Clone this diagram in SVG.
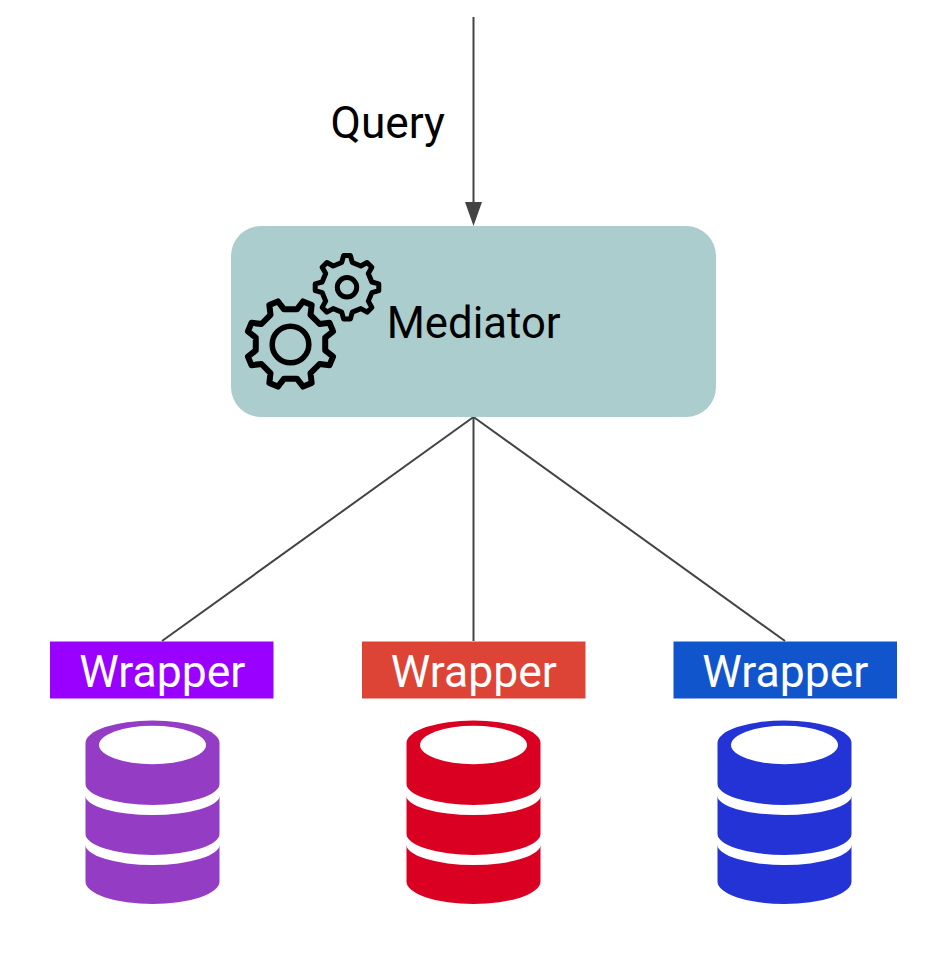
<svg xmlns="http://www.w3.org/2000/svg" xmlns:xlink="http://www.w3.org/1999/xlink" width="934" height="968" viewBox="0 0 934 968">
<style>
text{font-family:Roboto,"Liberation Sans",sans-serif;font-size:44.5px}
.dark{fill:#000}
.light{fill:#fff;text-anchor:middle}
.link{fill:none;stroke:#434343;stroke-width:2}
.gear,.hub{fill:none;stroke:#000;stroke-linejoin:round}
</style>
<defs>
<polygon id="cog" points="32.45,6.01 39.79,11.79 36.47,19.8 27.2,18.69 18.69,27.2 19.8,36.47 11.79,39.79 6.01,32.45 -6.01,32.45 -11.79,39.79 -19.8,36.47 -18.69,27.2 -27.2,18.69 -36.47,19.8 -39.79,11.79 -32.45,6.01 -32.45,-6.01 -39.79,-11.79 -36.47,-19.8 -27.2,-18.69 -18.69,-27.2 -19.8,-36.47 -11.79,-39.79 -6.01,-32.45 6.01,-32.45 11.79,-39.79 19.8,-36.47 18.69,-27.2 27.2,-18.69 36.47,-19.8 39.79,-11.79 32.45,-6.01"/>
<g id="db">
<path d="M0.500 743A67 22.500 0 0 1 134.500 743V881.500A67 22.500 0 0 1 0.500 881.500Z"/>
<ellipse cx="67.500" cy="745" rx="53.500" ry="19.200" fill="#fff"/>
<path d="M0 783A67.500 22 0 0 0 135 783V795A67.500 20 0 0 1 0 795Z" fill="#fff"/>
<path d="M0 833A67.500 22 0 0 0 135 833V844A67.500 21 0 0 1 0 844Z" fill="#fff"/>
</g>
</defs>
<g id="connectors">
<path class="link" d="M473.500 17V202"/>
<path d="M465 202H482L473.500 226Z" fill="#434343"/>
<path class="link" d="M473.500 417L162 641"/>
<path class="link" d="M473.500 417V641"/>
<path class="link" d="M473.500 417L785 641"/>
</g>
<g id="query"><text class="dark" x="330.500" y="138" style="font-size:44.2px">Query</text></g>
<g id="mediator">
<rect x="231" y="226" width="485" height="191" rx="30" fill="#abcdce"/>
<use xlink:href="#cog" href="#cog" class="gear" stroke-width="5.600" transform="translate(290.500 344) scale(1.070)"/>
<circle class="hub" cx="290.500" cy="344.500" r="18.300" stroke-width="5.500"/>
<use xlink:href="#cog" href="#cog" class="gear" stroke-width="6.500" transform="translate(347 287.300) rotate(22.500) scale(.770)"/>
<circle class="hub" cx="347" cy="287.300" r="9.700" stroke-width="5"/>
<text class="dark" x="386.700" y="338" style="font-size:43.700px">Mediator</text>
</g>
<g id="wrapper-purple">
<rect x="50" y="641.500" width="223.500" height="57" fill="#9900ff"/>
<text class="light" x="162.300" y="687">Wrapper</text>
</g>
<g id="wrapper-red">
<rect x="362" y="641.500" width="223.500" height="57" fill="#dd4436"/>
<text class="light" x="473.800" y="687">Wrapper</text>
</g>
<g id="wrapper-blue">
<rect x="673.500" y="641.500" width="223.500" height="57" fill="#1155cc"/>
<text class="light" x="785.300" y="687">Wrapper</text>
</g>
<g id="db-purple"><use xlink:href="#db" href="#db" x="85" fill="#943cc3"/></g>
<g id="db-red"><use xlink:href="#db" href="#db" x="406" fill="#da0022"/></g>
<g id="db-blue"><use xlink:href="#db" href="#db" x="717" fill="#2433d6"/></g>
</svg>
